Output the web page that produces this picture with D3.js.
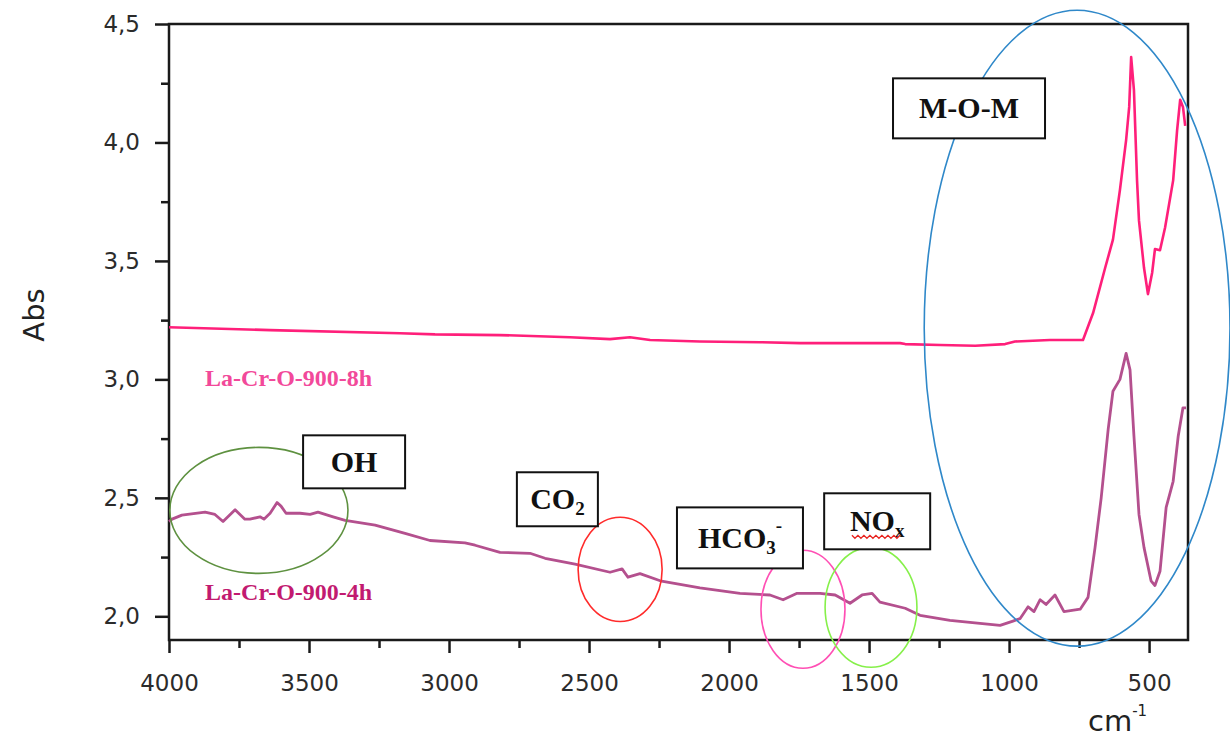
<!DOCTYPE html>
<html lang="en">
	<head>
		<meta charset="UTF-8" />
		<title>FTIR La-Cr-O</title>
		<script src="https://d3js.org/d3.v7.min.js"></script>
		<style>
			body {
				margin: 0;
				background: #fff;
			}
			svg {
				display: block;
				background: #fff;
			}
			.tick text {
				font-family: 'DejaVu Sans', sans-serif;
				font-size: 23px;
				fill: #2b2b2b;
			}
			.tick line {
				stroke: #1a1a1a;
				stroke-width: 2.5px;
			}
			.box text {
				font-family: 'Liberation Serif', serif;
				font-weight: bold;
				font-size: 30px;
				fill: #111;
			}
			.series-label {
				font-family: 'Liberation Serif', serif;
				font-weight: bold;
				font-size: 24px;
			}
		</style>
	</head>
	<body>
		<svg width="1230" height="740"></svg>
		<script>
			// wavenumbers (cm-1) and absorbance
			const wn8h = [4000, 3639, 3175, 3050, 2818, 2568, 2425, 2354, 2282, 2104, 1889, 1746, 1389, 1371, 1246, 1121, 1014, 979, 854, 736, 700, 657, 629, 604, 582, 571, 564, 554, 543, 536, 518, 504, 489, 479, 461, 443, 414, 400, 389, 379, 371];
			const abs8h = [3.22, 3.208, 3.195, 3.19, 3.187, 3.178, 3.17, 3.178, 3.166, 3.16, 3.157, 3.153, 3.153, 3.149, 3.145, 3.142, 3.149, 3.16, 3.166, 3.166, 3.28, 3.47, 3.59, 3.8, 4.01, 4.15, 4.36, 4.22, 3.84, 3.67, 3.47, 3.36, 3.45, 3.55, 3.545, 3.64, 3.84, 4.05, 4.18, 4.15, 4.07];

			const wn4h = [4000, 3989, 3954, 3871, 3836, 3807, 3764, 3729, 3711, 3675, 3661, 3639, 3614, 3600, 3582, 3532, 3496, 3468, 3414, 3371, 3264, 3157, 3068, 2943, 2907, 2818, 2711, 2657, 2550, 2425, 2382, 2361, 2318, 2246, 2104, 1961, 1854, 1807, 1757, 1675, 1621, 1568, 1525, 1489, 1461, 1371, 1318, 1211, 1104, 1032, 986, 961, 932, 911, 889, 868, 836, 804, 746, 718, 693, 671, 646, 629, 604, 582, 568, 554, 536, 518, 493, 479, 461, 439, 414, 396, 379, 368];
			const abs4h = [2.4, 2.41, 2.427, 2.44, 2.43, 2.4, 2.45, 2.41, 2.41, 2.42, 2.41, 2.435, 2.48, 2.465, 2.435, 2.435, 2.43, 2.44, 2.42, 2.405, 2.385, 2.35, 2.32, 2.31, 2.3, 2.27, 2.266, 2.245, 2.22, 2.186, 2.2, 2.165, 2.18, 2.15, 2.12, 2.097, 2.09, 2.07, 2.097, 2.097, 2.09, 2.055, 2.09, 2.097, 2.06, 2.034, 2.004, 1.983, 1.97, 1.962, 1.98, 1.99, 2.04, 2.02, 2.07, 2.05, 2.09, 2.02, 2.03, 2.08, 2.29, 2.5, 2.79, 2.95, 3.0, 3.11, 3.04, 2.76, 2.43, 2.29, 2.15, 2.13, 2.19, 2.46, 2.57, 2.76, 2.88, 2.88];

			const xMajor = [4000, 3500, 3000, 2500, 2000, 1500, 1000, 500];
			const xMinor = [3750, 3250, 2750, 2250, 1750, 1250, 750];
			const yMajor = [2.0, 2.5, 3.0, 3.5, 4.0, 4.5];
			const yMinor = [2.25, 2.75, 3.25, 3.75, 4.25];

			const seriesNames = ['La-Cr-O-900-8h', 'La-Cr-O-900-4h'];
			const seriesColors = ['#ff1f7a', '#b4508e'];
			const seriesLabelColors = ['#f2499a', '#c21a70'];
			// label anchor (cm-1, Abs)
			const seriesLabelAt = [[3871, 2.971], [3871, 2.068]];

			// circled regions: centre (cm-1, Abs), radii (cm-1, Abs)
			const rings = [
				{ name: 'OH', cm: 3679, abs: 2.447, rcm: 318, rabs: 0.266, color: '#5e9140' },
				{ name: 'CO2', cm: 2389, abs: 2.198, rcm: 150, rabs: 0.22, color: '#ff2b2b' },
				{ name: 'HCO3', cm: 1736, abs: 2.03, rcm: 150, rabs: 0.249, color: '#ff4fb4' },
				{ name: 'NOx', cm: 1493, abs: 2.038, rcm: 164, rabs: 0.253, color: '#86f04a' },
				{ name: 'MOM', cm: 757, abs: 3.216, rcm: 546, rabs: 1.342, color: '#2f88c9' }
			];

			// boxed labels: centre (cm-1, Abs), size in px
			const boxes = [
				{ parts: [['OH']], cm: 3339, abs: 2.652, w: 102, h: 53 },
				{ parts: [['CO'], ['2', 'sub']], cm: 2613, abs: 2.494, w: 81, h: 54 },
				{ parts: [['HCO'], ['3', 'sub'], ['-', 'sup']], cm: 1961, abs: 2.331, w: 126, h: 61 },
				{ parts: [['NO'], ['x', 'sub']], cm: 1471, abs: 2.401, w: 106, h: 56, squiggle: true },
				{ parts: [['M-O-M']], cm: 1143, abs: 4.144, w: 152, h: 60 }
			];

			const svg = d3.select('svg');
			const mLeft = 169, mRight = 1188, mTop = 24, mBottom = 640;

			const x = d3.scaleLinear().domain([4000, 361]).range([mLeft, mRight]);
			const y = d3.scaleLinear().domain([1.9, 4.5]).range([mBottom, mTop]);

			// axes
			const fmtY = (d) => d3.format('.1f')(d).replace('.', ',');

			svg.append('g')
				.attr('transform', `translate(0,${mBottom})`)
				.call(d3.axisBottom(x).tickValues(xMajor).tickSize(13).tickPadding(22).tickFormat(d3.format('d')))
				.call((g) => g.select('.domain').remove());
			svg.append('g')
				.attr('transform', `translate(0,${mBottom})`)
				.call(d3.axisBottom(x).tickValues(xMinor).tickSize(8).tickFormat(''))
				.call((g) => g.select('.domain').remove());

			svg.append('g')
				.attr('transform', `translate(${mLeft},0)`)
				.call(d3.axisLeft(y).tickValues(yMajor).tickSize(14).tickPadding(15).tickFormat(fmtY))
				.call((g) => g.select('.domain').remove());
			svg.append('g')
				.attr('transform', `translate(${mLeft},0)`)
				.call(d3.axisLeft(y).tickValues(yMinor).tickSize(8).tickFormat(''))
				.call((g) => g.select('.domain').remove());

			svg.append('rect')
				.attr('x', mLeft)
				.attr('y', mTop)
				.attr('width', mRight - mLeft)
				.attr('height', mBottom - mTop)
				.attr('fill', 'none')
				.attr('stroke', '#1a1a1a')
				.attr('stroke-width', 2.5);

			svg.append('text')
				.attr('transform', 'translate(44,315) rotate(-90)')
				.attr('text-anchor', 'middle')
				.style('font-family', "'DejaVu Sans', sans-serif")
				.style('font-size', '29px')
				.attr('fill', '#222')
				.text('Abs');

			const unit = svg.append('text')
				.attr('x', 1088)
				.attr('y', 731)
				.style('font-family', "'DejaVu Sans', sans-serif")
				.style('font-size', '29px')
				.attr('fill', '#222');
			unit.append('tspan').text('cm');
			unit.append('tspan').attr('dy', -15).style('font-size', '15px').text('-1');

			// spectra
			const line = d3.line().x((d) => x(d[0])).y((d) => y(d[1]));
			const series = [d3.zip(wn8h, abs8h), d3.zip(wn4h, abs4h)];

			svg.append('g')
				.selectAll('path')
				.data(series)
				.enter()
				.append('path')
				.attr('d', line)
				.attr('fill', 'none')
				.attr('stroke', (d, i) => seriesColors[i])
				.attr('stroke-width', (d, i) => (i ? 2.8 : 2.6))
				.attr('stroke-linejoin', 'round');

			svg.append('g')
				.selectAll('text')
				.data(seriesNames)
				.enter()
				.append('text')
				.attr('class', 'series-label')
				.attr('x', (d, i) => x(seriesLabelAt[i][0]))
				.attr('y', (d, i) => y(seriesLabelAt[i][1]))
				.attr('fill', (d, i) => seriesLabelColors[i])
				.text((d) => d);

			// circled regions
			svg.append('g')
				.selectAll('ellipse')
				.data(rings)
				.enter()
				.append('ellipse')
				.attr('cx', (d) => x(d.cm))
				.attr('cy', (d) => y(d.abs))
				.attr('rx', (d) => Math.abs(x(d.cm + d.rcm) - x(d.cm)))
				.attr('ry', (d) => Math.abs(y(d.abs + d.rabs) - y(d.abs)))
				.attr('fill', 'none')
				.attr('stroke', (d) => d.color)
				.attr('stroke-width', 1.6);

			// boxed labels
			const box = svg.append('g')
				.attr('class', 'box')
				.selectAll('g')
				.data(boxes)
				.enter()
				.append('g')
				.attr('transform', (d) => `translate(${x(d.cm)},${y(d.abs)})`);

			box.append('rect')
				.attr('x', (d) => -d.w / 2)
				.attr('y', (d) => -d.h / 2)
				.attr('width', (d) => d.w)
				.attr('height', (d) => d.h)
				.attr('fill', '#fff')
				.attr('stroke', '#111')
				.attr('stroke-width', 2);

			box.each(function (d) {
				const t = d3.select(this).append('text').attr('text-anchor', 'middle').attr('y', 10);
				let shift = 0;
				d.parts.forEach(([s, kind]) => {
					const ts = t.append('tspan').text(s);
					if (kind === 'sub') {
						ts.attr('dy', 6 - shift).style('font-size', '19px');
						shift = 6;
					} else if (kind === 'sup') {
						ts.attr('dy', -16 - shift).style('font-size', '19px');
						shift = -16;
					} else if (shift) {
						ts.attr('dy', -shift);
						shift = 0;
					}
				});
				if (d.squiggle) {
					const bb = t.node().getBBox();
					const pts = [];
					for (let px = bb.x + 2, k = 0; px <= bb.x + bb.width - 4; px += 3, k++) {
						pts.push([px, 15 + (k % 2 ? 2 : -1)]);
					}
					d3.select(this)
						.append('path')
						.attr('d', d3.line()(pts))
						.attr('fill', 'none')
						.attr('stroke', '#e8231e')
						.attr('stroke-width', 1.3);
				}
			});
		</script>
	</body>
</html>
